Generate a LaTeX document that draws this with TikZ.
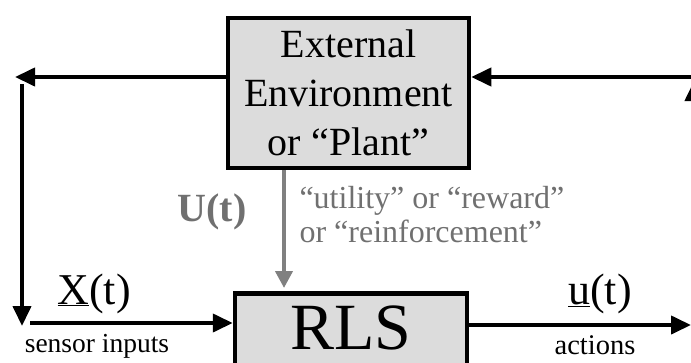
\documentclass[tikz,border=0pt]{standalone}
\usepackage{fontspec}
\setmainfont{Liberation Serif}
\usetikzlibrary{arrows.meta}
\definecolor{boxgray}{HTML}{DCDCDC}
\definecolor{txtgray}{HTML}{707070}
\definecolor{arrgray}{HTML}{808080}
\tikzset{
  blockbox/.style={draw=black,fill=boxgray,line width=4.5pt,inner sep=0pt},
  arr/.style={line width=4pt,-{Triangle[length=20pt,width=18pt]}},
  garr/.style={line width=4pt,draw=arrgray,-{Triangle[length=17pt,width=17pt]}}
}
\begin{document}
\begin{tikzpicture}[x=1pt,y=-1pt]
  \useasboundingbox (0,0) rectangle (691,362);
  \clip (0,0) rectangle (691,362);
  % boxes
  \node[blockbox,minimum width=241pt,minimum height=150pt,align=center,
        font=\fontsize{40}{49}\selectfont] (env) at (348.5,93)
        {External\\Environment\\or “Plant”};
  \node[blockbox,anchor=north,minimum width=232pt,text height=56pt,text depth=90pt,
        font=\fontsize{66}{66}\selectfont] (rls) at (351,291) {RLS};
  % loose ends of the connectors
  \coordinate (envL) at (226,77); \coordinate (tl) at (15,77);
  \coordinate (tlv) at (22,84);   \coordinate (bl) at (22,326);
  \coordinate (blh) at (30,323);  \coordinate (out) at (691,325);
  \coordinate (tr) at (700,77);   \coordinate (trv) at (694,81);
  \coordinate (brv) at (694,330);
  % feedback path on the left
  \draw[arr] (envL) -- (tl);
  \draw[arr] (tlv) -- (bl);
  \draw[arr] (blh) -- (blh -| rls.west);
  % output and path on the right
  \draw[arr] (rls.east |- out) -- (out);
  \draw[arr] (brv) -- (trv);
  \draw[arr] (tr) -- (tr -| env.east);
  % reward signal
  \draw[garr] (env.south -| 284,0) -- (284,288);
  % labels
  \node[font=\fontsize{40}{40}\selectfont\bfseries,text=txtgray] (ulab) at (212,212) {U(t)};
  \node[anchor=base west,align=left,text=txtgray,font=\fontsize{32}{34}\selectfont]
       (rew) at (296,242) {“utility” or “reward”\\or “reinforcement”};
  \node[anchor=base west,font=\fontsize{44}{44}\selectfont] (xlab) at (54,304) {\underline{X}(t)};
  \node[anchor=base,font=\fontsize{27.5}{27.5}\selectfont] (sens) at (97,352) {sensor inputs};
  \node[anchor=base,font=\fontsize{44}{44}\selectfont] (ulab2) at (600,304) {\underline{u}(t)};
  \node[anchor=base,font=\fontsize{28.5}{28.5}\selectfont] (act) at (595,354) {actions};
\end{tikzpicture}
\end{document}
